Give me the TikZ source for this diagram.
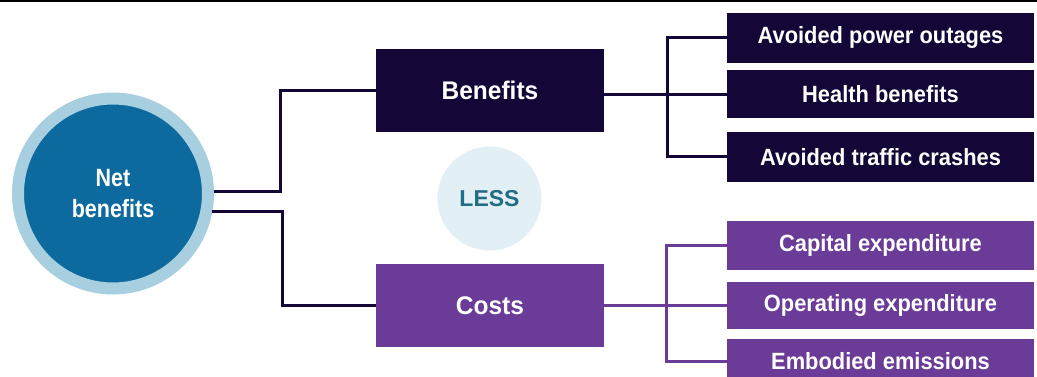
\documentclass[tikz,border=0pt]{standalone}
\usepackage{fontspec}
\setmainfont{Liberation Sans}
\newfontfamily\headsans{Liberation Sans}[FakeStretch=0.96]
\newfontfamily\itemsans{Liberation Sans}[FakeStretch=0.93]
\newfontfamily\rootsans{Liberation Sans}[FakeStretch=0.86]

\definecolor{navy}{HTML}{140637}
\definecolor{plum}{HTML}{6A3B97}
\definecolor{deepblue}{HTML}{0D6A9F}
\definecolor{ringblue}{HTML}{A8CFE0}
\definecolor{paleblue}{HTML}{E2EFF4}
\definecolor{tealtext}{HTML}{236C86}

\tikzset{
  headbox/.style={rectangle, minimum width=228pt, minimum height=83pt,
    inner sep=0pt, outer sep=0pt, text=white,
    font=\headsans\bfseries\fontsize{25.5}{28}\selectfont},
  itembox/.style={rectangle, minimum width=307pt, inner sep=0pt,
    outer sep=0pt, text=white,
    font=\itemsans\bfseries\fontsize{23.5}{26}\selectfont},
  navylink/.style={draw=navy, line width=3pt},
  plumlink/.style={draw=plum, line width=3pt},
}

\begin{document}
\begin{tikzpicture}[x=1pt, y=-1pt]
\useasboundingbox (0,0) rectangle (1037,376);

% rule along the top edge
\draw[line width=2.5pt, black] (0,1) -- (1037,1);

% root circle with its light ring
\node[circle, fill=deepblue, draw=ringblue, line width=12pt,
      minimum size=190pt, inner sep=0pt, text=white, align=center,
      font=\rootsans\bfseries\fontsize{25}{31.3}\selectfont]
      (net) at (113,193.5) {Net\\benefits};

% "less" marker between the two groups
\node[circle, fill=paleblue, minimum size=104pt, inner sep=0pt,
      text=tealtext, font=\bfseries\fontsize{23}{26}\selectfont]
      (less) at (489.5,198.5) {LESS};

% group boxes
\node[headbox, fill=navy] (ben) at (490,90.5) {Benefits};
\node[headbox, fill=plum] (cost) at (490,305.5) {Costs};

% benefit items
\node[itembox, fill=navy, minimum height=50pt]   (b1) at (880.5,37.7)  {Avoided power outages};
\node[itembox, fill=navy, minimum height=48.3pt] (b2) at (880.5,94.2)  {Health benefits};
\node[itembox, fill=navy, minimum height=50pt]   (b3) at (880.5,156.7) {Avoided traffic crashes};

% cost items
\node[itembox, fill=plum, minimum height=49pt] (c1) at (880.5,245.5) {Capital expenditure};
\node[itembox, fill=plum, minimum height=47pt] (c2) at (880.5,305.5) {Operating expenditure};
\node[itembox, fill=plum, minimum height=44pt] (c3) at (880.5,361)   {Embodied emissions};

% trunk positions of the elbow connectors
\coordinate (rootup) at (280,0);
\coordinate (rootdn) at (282,0);
\coordinate (bentrunk) at (667,0);
\coordinate (costtrunk) at (666,0);

% root to groups
\draw[navylink] (net.1) -- (net.1 -| rootup) |- (ben.west);
\draw[navylink] (net.-10) -- (net.-10 -| rootdn) |- (cost.west);

% benefits to items
\draw[navylink] (b2.west -| ben.east) -- (b2.west);
\draw[navylink] (b1.west) -- (b1.west -| bentrunk) -- (b3.west -| bentrunk) -- (b3.west);

% costs to items
\draw[plumlink] (cost.east) -- (c2.west);
\draw[plumlink] (c1.west) -- (c1.west -| costtrunk) -- (c3.west -| costtrunk) -- (c3.west);
\end{tikzpicture}
\end{document}
